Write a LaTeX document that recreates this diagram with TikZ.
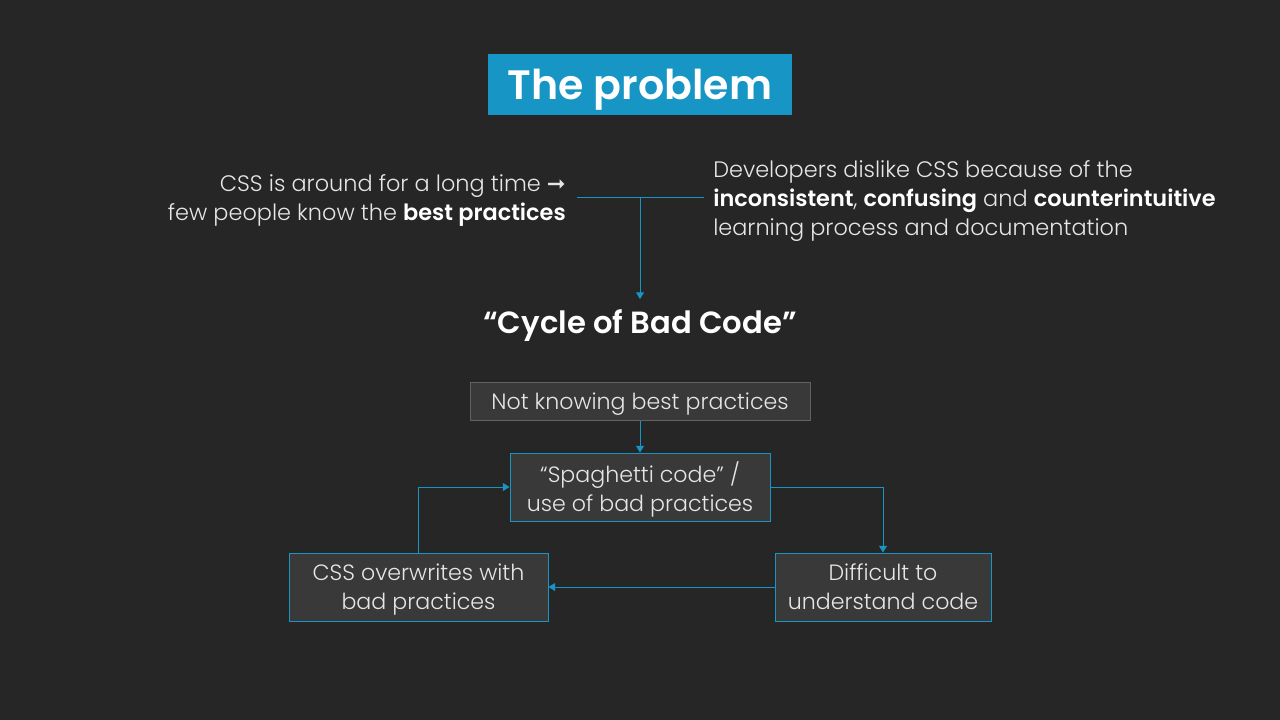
\documentclass[tikz,border=0pt]{standalone}
\usepackage{fontspec}
\setmainfont{Poppins}[UprightFont=* Light, BoldFont=* SemiBold]
\newfontfamily\dejavu{DejaVu Sans}
\usetikzlibrary{arrows.meta}
\definecolor{bg}{HTML}{262626}
\definecolor{accent}{HTML}{1795C5}
\definecolor{boxfill}{HTML}{393939}
\definecolor{boxgray}{HTML}{626262}
\definecolor{txt}{HTML}{E6E6E6}
\begin{document}
\begin{tikzpicture}[x=0.75pt,y=-0.75pt,
  every node/.style={text=txt, inner sep=0pt},
  body/.style={font=\fontsize{16.8}{21.75}\selectfont},
  cbox/.style={draw=accent, line width=0.75pt, fill=boxfill, font=\fontsize{16.6}{21.75}\selectfont, align=center, text depth=-0.5pt},
  gbox/.style={draw=boxgray, line width=0.75pt, fill=boxfill, font=\fontsize{16.6}{21.75}\selectfont, align=center, text depth=-0.5pt},
  link/.style={draw=accent, line width=0.75pt, -{Triangle[length=5pt,width=6pt]}},
  plain/.style={draw=accent, line width=0.75pt}]
\fill[bg] (0,0) rectangle (1280,720);
\useasboundingbox (0,0) rectangle (1280,720);
% title
\node[fill=accent, minimum width=304*0.75pt, minimum height=61*0.75pt, text=white, text depth=1pt, font=\fontsize{30.8}{36}\selectfont\bfseries] (title) at (640,84.5) {The problem};
% left text
\node[body, align=right, anchor=east] (left) at (566,200) {CSS is around for a long time {\dejavu\bfseries ➞}\\few people know the \textbf{\color{white}best practices}};
% right text
\node[body, align=left, anchor=west] (right) at (713,201) {Developers dislike CSS because of the\\\textbf{\color{white}inconsistent}, \textbf{\color{white}confusing} and \textbf{\color{white}counterintuitive}\\learning process and documentation};
\coordinate (lj) at (577,198);
\coordinate (rj) at (704,198);
\coordinate (mj) at (640,198);
\draw[plain] (lj) -- (rj);
% cycle title
\node[font=\fontsize{23}{26}\selectfont\bfseries, text=white] (cycle) at (640,326) {“Cycle of Bad Code”};
\coordinate (ctop) at (640,299);
\draw[link] (mj) -- (ctop);
% boxes
\node[gbox, minimum width=340*0.75pt, minimum height=38*0.75pt] (b1) at (640,401) {Not knowing best practices};
\node[cbox, minimum width=260*0.75pt, minimum height=68*0.75pt] (b2) at (640,487) {“Spaghetti code” /\\use of bad practices};
\node[cbox, minimum width=259*0.75pt, minimum height=68*0.75pt] (b3) at (418.5,587) {CSS overwrites with\\bad practices};
\node[cbox, minimum width=216*0.75pt, minimum height=68*0.75pt] (b4) at (883,587) {Difficult to\\understand code};
\draw[link] (b1.south) -- (b2.north);
\draw[link] (b2.east) -| (b4.north);
\draw[link] (b4.west) -- (b3.east);
\draw[link] (b3.north) |- (b2.west);
\end{tikzpicture}
\end{document}
